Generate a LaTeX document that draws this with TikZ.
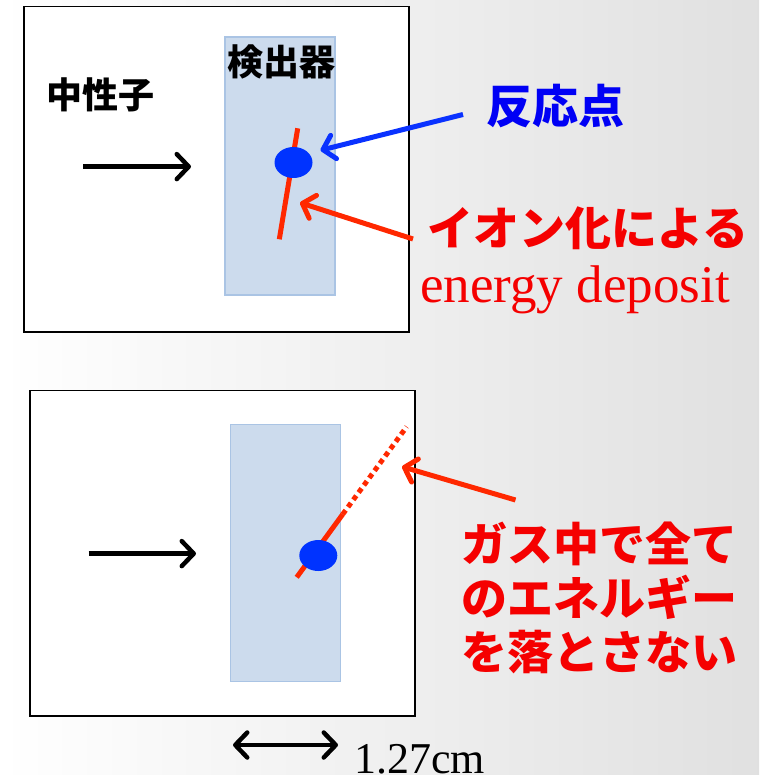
\documentclass[tikz,border=0pt]{standalone}
\usepackage{fontspec}
\newfontfamily\cjk{Noto Sans CJK JP}
\newfontfamily\serifl{Liberation Serif}
\usetikzlibrary{arrows.meta,shapes.geometric}
\definecolor{detfill}{RGB}{204,219,237}
\definecolor{detline}{RGB}{170,196,228}
\definecolor{trk}{RGB}{255,40,0}
\definecolor{dotblue}{RGB}{0,51,255}
\definecolor{arrblue}{RGB}{10,50,255}
\definecolor{txtblue}{RGB}{0,0,245}
\definecolor{txtred}{RGB}{245,0,0}
\tikzset{
  frame/.style={draw=black, fill=white, line width=1.6pt, inner sep=0pt, minimum width=385pt, minimum height=325.5pt},
  detector/.style={draw=detline, fill=detfill, line width=1.2pt, inner sep=0pt, minimum width=110pt, minimum height=257pt},
  vertex/.style={ellipse, fill=dotblue, inner sep=0pt, minimum width=38pt, minimum height=31pt},
  track/.style={draw=trk, line width=5pt},
  lost/.style={draw=trk, line width=5pt, dash pattern=on 5pt off 4pt},
  pointer/.style={line width=5pt, -{Straight Barb[length=11pt,width=24pt,round]}},
  beam/.style={draw=black, line width=4.5pt, -{Straight Barb[length=12pt,width=25pt,round]}},
  scalebar/.style={draw=black, line width=4.5pt, {Straight Barb[length=12pt,width=25pt,round]}-{Straight Barb[length=12pt,width=25pt,round]}},
  jlabel/.style={inner sep=0pt, font=\cjk\bfseries\fontsize{36}{40}\selectfont},
  jbig/.style={inner sep=0pt, align=center, font=\cjk\bfseries\fontsize{46}{54}\selectfont},
}
\begin{document}
\begin{tikzpicture}[x=1pt,y=-1pt]
\useasboundingbox (0,0) rectangle (759,775);
\shade[left color=white, middle color=white, right color=gray!24] (0,0) rectangle (759,775);

% ---------- top panel ----------
\node[frame] (frameA) at (216.5,169.25) {};
\node[detector] (detA) at (280,166) [minimum height=258pt] {};
\node[jlabel] (detlabel) at (281.5,62) {検出器};
\node[jlabel] (neutronA) at (100,95) {中性子};

\coordinate (trkAtop) at (297.7,128.3);
\coordinate (trkAbot) at (279.3,239.3);
\draw[track] (trkAtop) -- (trkAbot);
\node[vertex] (vtxA) at (293.5,162.5) {};

\coordinate (beamAs) at (83,166.6);
\coordinate (beamAe) at (191,166.6);
\draw[beam] (beamAs) -- (beamAe);

\node[jbig, text=txtblue] (reaction) at (555,106) {反応点};
\coordinate (blueS) at (463,114.5);
\coordinate (blueT) at (320.5,150.3);
\draw[pointer, draw=arrblue] (blueS) -- (blueT);

\node[jbig, text=txtred] (ion) at (588,228) {イオン化による};
\node[inner sep=0pt, anchor=base west, text=txtred, font=\serifl\fontsize{53}{58}\selectfont] (edep) at (420,302) {energy deposit};
\coordinate (redAS) at (413,239);
\coordinate (redAT) at (300,202.7);
\draw[pointer, draw=trk] (redAS) -- (redAT);

% ---------- bottom panel ----------
\node[frame] (frameB) at (222.25,553.25) {};
\node[detector] (detB) at (285.7,553.3) {};

\coordinate (trkBbot) at (296.7,577.3);
\coordinate (trkBmid) at (342.7,514.3);
\coordinate (trkBtop) at (406.7,426.7);
\draw[track] (trkBbot) -- (trkBmid);
\draw[lost] (trkBmid) -- (trkBtop);
\node[vertex] (vtxB) at (318.3,555.5) {};

\coordinate (beamBs) at (88.6,553.6);
\coordinate (beamBe) at (196,553.6);
\draw[beam] (beamBs) -- (beamBe);

\coordinate (redBS) at (515.5,500);
\coordinate (redBT) at (402,466.7);
\draw[pointer, draw=trk] (redBS) -- (redBT);
\node[jbig, text=txtred] (escape) at (599,598) {ガス中で全て\\のエネルギー\\を落とさない};

% ---------- scale ----------
\coordinate (scaleL) at (233,745);
\coordinate (scaleR) at (338,745);
\draw[scalebar] (scaleL) -- (scaleR);
\node[inner sep=0pt, anchor=base west, font=\serifl\fontsize{44}{50}\selectfont] (scaletext) at (354,773) {1.27cm};
\end{tikzpicture}
\end{document}
